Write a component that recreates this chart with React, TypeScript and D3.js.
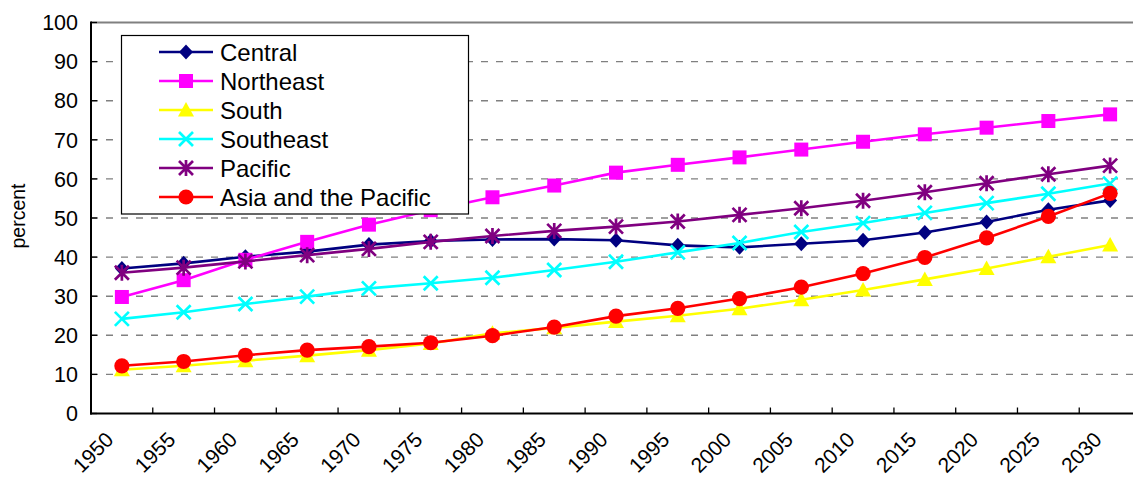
import React from "react";
import * as d3 from "d3";

// Urban population share by subregion, 1950–2030
const years = ["1950","1955","1960","1965","1970","1975","1980","1985","1990","1995","2000","2005","2010","2015","2020","2025","2030"];
const central = [37.1, 38.4, 40.1, 41.4, 43.2, 44.1, 44.5, 44.6, 44.3, 43.0, 42.5, 43.4, 44.3, 46.3, 49.0, 52.1, 54.5];
const northeast = [29.8, 34.1, 39.3, 43.9, 48.3, 52.0, 55.3, 58.3, 61.6, 63.6, 65.5, 67.5, 69.5, 71.4, 73.1, 74.8, 76.5];
const south = [11.2, 12.2, 13.5, 14.8, 16.2, 17.9, 20.5, 21.9, 23.5, 25.0, 26.8, 29.1, 31.6, 34.3, 37.1, 40.1, 43.1];
const southeast = [24.2, 25.9, 28.0, 29.9, 32.0, 33.3, 34.7, 36.7, 38.8, 41.2, 43.6, 46.4, 48.7, 51.3, 53.8, 56.2, 58.8];
const pacific = [36.0, 37.3, 38.9, 40.5, 42.1, 43.9, 45.4, 46.7, 47.8, 49.1, 50.8, 52.5, 54.4, 56.6, 58.9, 61.2, 63.4];
const asiaPacific = [12.2, 13.3, 14.9, 16.2, 17.1, 18.1, 19.9, 22.1, 24.9, 26.9, 29.4, 32.3, 35.8, 39.9, 44.9, 50.4, 56.3];
const yTicks = [0, 10, 20, 30, 40, 50, 60, 70, 80, 90, 100];

type Shape = "diamond" | "square" | "triangle" | "cross" | "star" | "circle";
const series: { name: string; values: number[]; color: string; shape: Shape }[] = [
  { name: "Central", values: central, color: "#000080", shape: "diamond" },
  { name: "Northeast", values: northeast, color: "#FF00FF", shape: "square" },
  { name: "South", values: south, color: "#FFFF00", shape: "triangle" },
  { name: "Southeast", values: southeast, color: "#00FFFF", shape: "cross" },
  { name: "Pacific", values: pacific, color: "#800080", shape: "star" },
  { name: "Asia and the Pacific", values: asiaPacific, color: "#FF0000", shape: "circle" },
];

const W = 1133;
const H = 479;
const left = 91;
const right = 1141;
const top = 22.5;
const bottom = 413.5;
const FONT = "'Liberation Sans', Arial, Helvetica, sans-serif";

function Marker({ x, y, shape, color }: { x: number; y: number; shape: Shape; color: string }) {
  switch (shape) {
    case "diamond":
      return <path d={`M${x},${y - 7.5}L${x + 7},${y}L${x},${y + 7.5}L${x - 7},${y}Z`} fill={color} />;
    case "square":
      return <rect x={x - 7} y={y - 7} width={14} height={14} fill={color} />;
    case "triangle":
      return <path d={`M${x},${y - 8}L${x + 8},${y + 6.5}L${x - 8},${y + 6.5}Z`} fill={color} />;
    case "cross":
      return (
        <path d={`M${x - 7},${y - 7}L${x + 7},${y + 7}M${x - 7},${y + 7}L${x + 7},${y - 7}`}
          stroke={color} strokeWidth={2.7} fill="none" />
      );
    case "star":
      return (
        <path d={`M${x - 7},${y - 7}L${x + 7},${y + 7}M${x - 7},${y + 7}L${x + 7},${y - 7}M${x},${y - 8}L${x},${y + 8}`}
          stroke={color} strokeWidth={2.7} fill="none" />
      );
    case "circle":
      return <circle cx={x} cy={y} r={7.6} fill={color} />;
  }
}

export default function App() {
  const x = d3.scaleBand<string>().domain(years).range([left, right]).padding(0);
  const y = d3.scaleLinear().domain([0, 100]).range([bottom, top]);
  const cx = (yr: string) => (x(yr) as number) + x.bandwidth() / 2;
  const line = d3.line<number>().x((_, i) => cx(years[i])).y((v) => y(v));

  const legendX = 121.5;
  const legendY = 35.5;
  const legendRowY = (i: number) => 52 + i * 29;

  return (
    <div style={{ position: "absolute", left: 0, top: 0 }}>
      <svg width={W} height={H} style={{ display: "block", fontFamily: FONT }}>
        <rect x={0} y={0} width={W} height={H} fill="#fff" />

        {/* horizontal dashed gridlines */}
        {yTicks.filter((t) => t > 0 && t < 100).map((t) => (
          <line key={t} x1={left} x2={right} y1={y(t)} y2={y(t)}
            stroke="#808080" strokeWidth={1.4} strokeDasharray="7,8" />
        ))}

        {/* plot frame top */}
        <line x1={left} x2={right} y1={top} y2={top} stroke="#808080" strokeWidth={1.8} />

        {/* y ticks (inside) and labels */}
        {yTicks.map((t) => (
          <g key={t}>
            <line x1={left} x2={left + 6} y1={y(t)} y2={y(t)} stroke="#000" strokeWidth={1.3} />
            <text x={78} y={y(t)} dy="0.36em" textAnchor="end" fontSize={21.5} fill="#000">{t}</text>
          </g>
        ))}

        {/* x ticks at band edges (inside) */}
        {years.map((yr) => (
          <line key={yr} x1={x(yr)} x2={x(yr)} y1={bottom} y2={bottom - 6} stroke="#000" strokeWidth={1.3} />
        ))}
        <line x1={right} x2={right} y1={bottom} y2={bottom - 6} stroke="#000" strokeWidth={1.3} />

        {/* axes */}
        <line x1={left} x2={left} y1={top - 1} y2={bottom + 1} stroke="#000" strokeWidth={2} />
        <line x1={left - 1} x2={right} y1={bottom} y2={bottom} stroke="#000" strokeWidth={2} />

        {/* x labels, rotated */}
        {years.map((yr) => {
          const ax = cx(yr) - 7;
          const ay = 441;
          return (
            <text key={yr} x={ax} y={ay} textAnchor="end" fontSize={21} fill="#000"
              transform={`rotate(-45 ${ax} ${ay})`}>{yr}</text>
          );
        })}

        {/* y title */}
        <text x={0} y={0} transform={`translate(25 216) rotate(-90)`} textAnchor="middle" fontSize={19.5} fill="#000">percent</text>

        {/* series */}
        {series.map((s) => (
          <g key={s.name}>
            <path d={line(s.values) as string} fill="none" stroke={s.color} strokeWidth={2.6} />
            {s.values.map((v, i) => (
              <Marker key={i} x={cx(years[i])} y={y(v)} shape={s.shape} color={s.color} />
            ))}
          </g>
        ))}

        {/* legend */}
        <rect x={legendX} y={legendY} width={347} height={178.5} fill="#fff" stroke="#000" strokeWidth={1.2} />
        {series.map((s, i) => {
          const ly = legendRowY(i);
          return (
            <g key={s.name}>
              <line x1={159} x2={213} y1={ly} y2={ly} stroke={s.color} strokeWidth={2.6} />
              <Marker x={186} y={ly} shape={s.shape} color={s.color} />
              <text x={220} y={ly} dy="0.36em" fontSize={24} fill="#000">{s.name}</text>
            </g>
          );
        })}
      </svg>
    </div>
  );
}
